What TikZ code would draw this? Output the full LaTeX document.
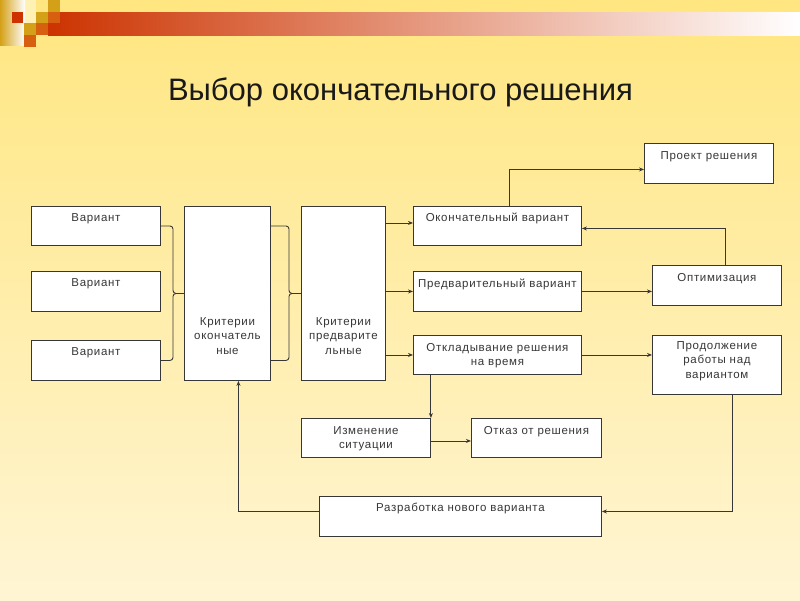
\documentclass[tikz,border=0pt]{standalone}
\usepackage{fontspec}
\setmainfont{Liberation Sans}
\newfontfamily\boxfont[LetterSpace=6]{Liberation Sans}
\usetikzlibrary{arrows.meta}
\definecolor{bgtop}{RGB}{255,230,128}
\definecolor{bgbot}{RGB}{255,245,212}
\definecolor{barred}{RGB}{204,51,0}
\definecolor{gold}{RGB}{212,160,23}
\definecolor{orng}{RGB}{214,96,16}
\definecolor{paleyl}{RGB}{255,240,180}
\definecolor{linec}{RGB}{55,55,55}
\definecolor{txtc}{RGB}{55,55,55}
\tikzset{
  box/.style={draw=linec, fill=white, line width=0.9pt, inner sep=0pt, anchor=north west},
  lbl/.style={anchor=north, inner sep=0pt, align=center, text=txtc,
     font=\boxfont\fontsize{11.5}{14.5}\selectfont},
  ln/.style={draw=linec, line width=0.9pt},
  arr/.style={ln, -{Stealth[length=5pt,width=4pt]}}
}
\begin{document}
\begin{tikzpicture}[x=1pt,y=-1pt]
\useasboundingbox (0,0) rectangle (800,600);
% background
\fill[top color=bgtop, bottom color=bgbot] (0,0) rectangle (800,600);
% header bar
\fill[left color=barred, right color=white] (48,12) rectangle (800,35);
\fill[paleyl] (25,0) rectangle (36,23);
\fill[left color=gold, right color=white] (0,0) rectangle (25,45);
\fill[barred] (12,12) rectangle (23,23);
\fill[gold] (48,0) rectangle (60,12);
\fill[gold] (36,12) rectangle (48,23);
\fill[orng] (48,12) rectangle (60,23);
\fill[gold] (24,23) rectangle (36,35);
\fill[orng] (36,23) rectangle (48,35);
\fill[orng] (24,35) rectangle (36,47);
% title
\node[anchor=base, inner sep=0pt, text=black!90, font=\fontsize{31}{36}\selectfont] (title) at (400.5,100) {Выбор окончательного решения};
% boxes
\node[box, minimum width=129pt, minimum height=39pt, label={[lbl, yshift=-7pt]north:Вариант}] (v1) at (31,206) {};
\node[box, minimum width=129pt, minimum height=40pt, label={[lbl, yshift=-7pt]north:Вариант}] (v2) at (31,271) {};
\node[box, minimum width=129pt, minimum height=40pt, label={[lbl, yshift=-7pt]north:Вариант}] (v3) at (31,340) {};
\node[box, minimum width=86pt, minimum height=174pt, label={[lbl, yshift=-111pt]north:Критерии\\окончатель\\ные}] (k1) at (184,206) {};
\node[box, minimum width=84pt, minimum height=174pt, label={[lbl, yshift=-111pt]north:Критерии\\предварите\\льные}] (k2) at (301,206) {};
\node[box, minimum width=168pt, minimum height=39pt, label={[lbl, yshift=-7pt]north:Окончательный вариант}] (fin) at (413,206) {};
\node[box, minimum width=168pt, minimum height=40pt, label={[lbl, yshift=-8pt]north:Предварительный вариант}] (pre) at (413,271) {};
\node[box, minimum width=168pt, minimum height=39pt, label={[lbl, yshift=-8pt]north:Откладывание решения\\на время}] (otk) at (413,335) {};
\node[box, minimum width=129pt, minimum height=40pt, label={[lbl, yshift=-8pt]north:Проект решения}] (proj) at (644,143) {};
\node[box, minimum width=129pt, minimum height=40pt, label={[lbl, yshift=-8pt]north:Оптимизация}] (opt) at (652,265) {};
\node[box, minimum width=129pt, minimum height=59pt, label={[lbl, yshift=-6pt]north:Продолжение\\работы над\\вариантом}] (prod) at (652,335) {};
\node[box, minimum width=129pt, minimum height=39pt, label={[lbl, yshift=-8pt]north:Изменение\\ситуации}] (izm) at (301,418) {};
\node[box, minimum width=130pt, minimum height=39pt, label={[lbl, yshift=-8pt]north:Отказ от решения}] (otz) at (471,418) {};
\node[box, minimum width=282pt, minimum height=40pt, label={[lbl, yshift=-7pt]north:Разработка нового варианта}] (raz) at (319,496) {};
% braces
\draw[ln, rounded corners=3pt] (v1.east) -| ([xshift=-11pt]k1.west) -- (k1.west);
\draw[ln, rounded corners=3pt] (v3.east) -| ([xshift=-11pt]k1.west) -- (k1.west);
\draw[ln, rounded corners=3pt] (k1.east |- v1.east) -| ([xshift=-12pt]k2.west) -- (k2.west);
\draw[ln, rounded corners=3pt] (k1.east |- v3.east) -| ([xshift=-12pt]k2.west) -- (k2.west);
% arrows from criteria
\draw[arr] ([yshift=3pt]k2.east |- fin.west) -- ([yshift=3pt]fin.west);
\draw[arr] (k2.east |- pre.west) -- (pre.west);
\draw[arr] (k2.east |- otk.west) -- (otk.west);
% others
\draw[arr] ([xshift=12pt]fin.north) |- ([yshift=-6pt]proj.west);
\draw[arr] (pre.east) -- (opt.west |- pre.east);
\draw[arr] ([xshift=8pt]opt.north) |- ([yshift=-2.5pt]fin.east);
\draw[arr] (otk.east) -- (prod.west |- otk.east);
\draw[arr] (izm.north east |- otk.south) -- (izm.north east);
\draw[arr] ([yshift=-3pt]izm.east) -- ([yshift=-3pt]otz.west);
\draw[arr] ([xshift=15.5pt]prod.south) |- ([yshift=5pt]raz.east);
\draw[arr] ([yshift=5pt]raz.west) -| ([xshift=11pt]k1.south);
\end{tikzpicture}
\end{document}
